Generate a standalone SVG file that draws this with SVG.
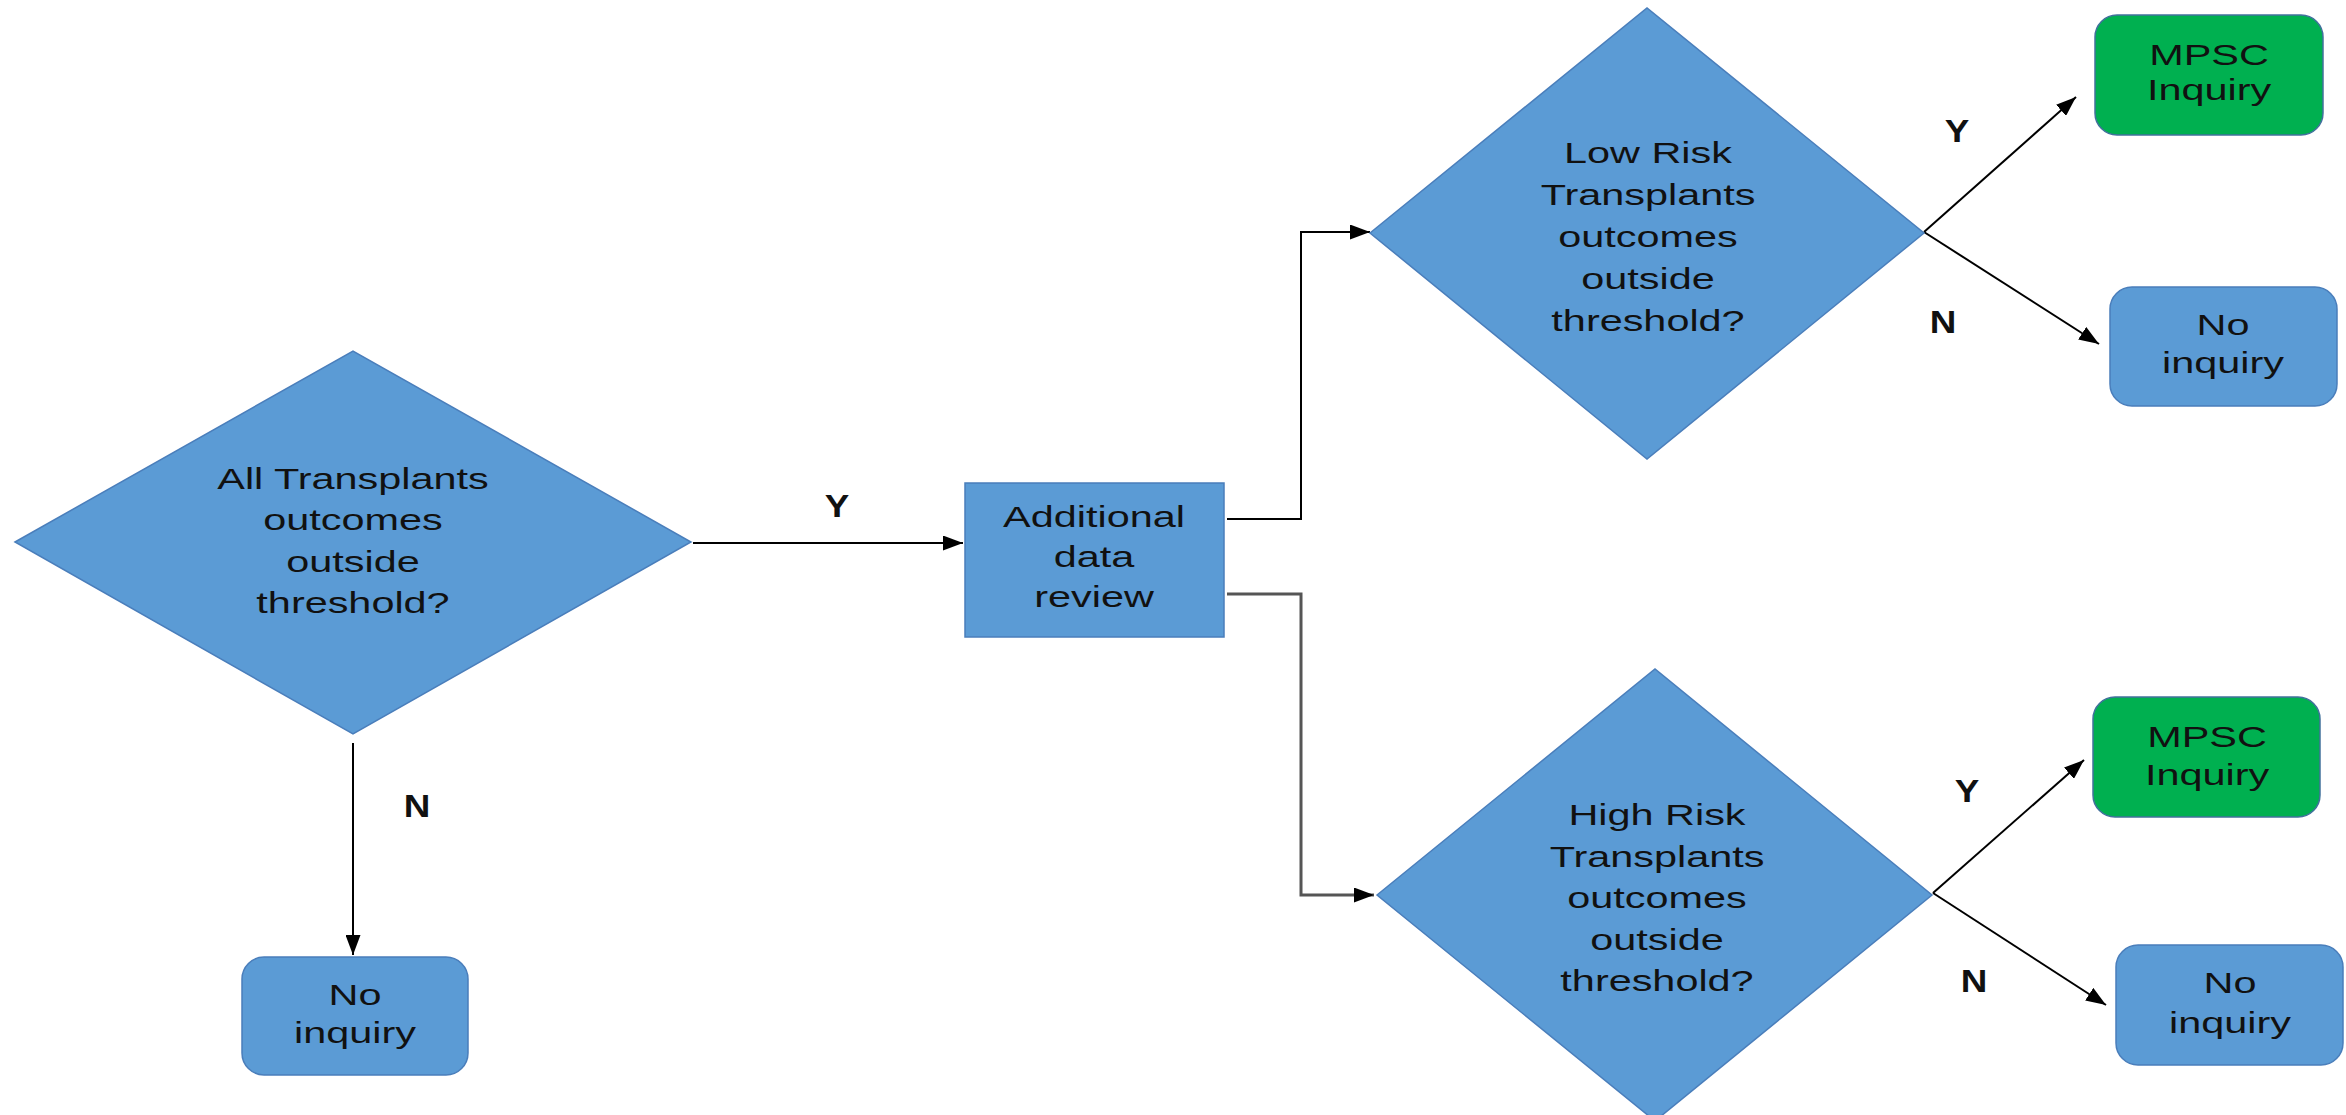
<svg xmlns="http://www.w3.org/2000/svg" width="2346" height="1115" viewBox="0 0 2346 1115">
<style>
.bg{fill:#ffffff}
.shape{fill:#5B9BD5;stroke:#4A7EBB;stroke-width:1.5}
.green{fill:#00B050;stroke:#41719C;stroke-width:1.5}
.t{font-family:"Liberation Sans",Arial,sans-serif;font-size:30px;fill:#111111;text-anchor:middle}
.lbl{font-family:"Liberation Sans",Arial,sans-serif;font-size:32px;font-weight:bold;fill:#111111;text-anchor:middle}
.c{fill:none;stroke:#000000;stroke-width:2}
.cg{fill:none;stroke:#555555;stroke-width:3}
</style>
<defs>
<marker id="arr" markerUnits="userSpaceOnUse" markerWidth="20" markerHeight="15" viewBox="0 0 20 15" refX="20" refY="7.5" orient="auto">
<path d="M0,0 L20,7.5 L0,15 z" fill="#000000"/>
</marker>
</defs>
<rect class="bg" x="0" y="0" width="2346" height="1115"/>
<g id="connectors">
<path class="c" d="M693,543 L963,543" marker-end="url(#arr)"/>
<path class="c" d="M353,743 L353,955" marker-end="url(#arr)"/>
<path class="c" d="M1227,519 L1301,519 L1301,232 L1370,232" marker-end="url(#arr)"/>
<path class="cg" d="M1227,594 L1301,594 L1301,895 L1374,895" marker-end="url(#arr)"/>
<path class="c" d="M1924,232 L2076,97" marker-end="url(#arr)"/>
<path class="c" d="M1924,232 L2099,344" marker-end="url(#arr)"/>
<path class="c" d="M1933,893 L2084,760" marker-end="url(#arr)"/>
<path class="c" d="M1933,893 L2106,1005" marker-end="url(#arr)"/>
<text class="lbl" transform="translate(837 0) scale(1.15 1)" x="0" y="517">Y</text>
<text class="lbl" transform="translate(417 0) scale(1.15 1)" x="0" y="817">N</text>
<text class="lbl" transform="translate(1957 0) scale(1.15 1)" x="0" y="142">Y</text>
<text class="lbl" transform="translate(1943 0) scale(1.15 1)" x="0" y="333">N</text>
<text class="lbl" transform="translate(1967 0) scale(1.15 1)" x="0" y="802">Y</text>
<text class="lbl" transform="translate(1974 0) scale(1.15 1)" x="0" y="992">N</text>
</g>
<g id="all-transplants">
<polygon class="shape" points="15,542 353,351 691,542 353,734"/>
<text class="t" transform="translate(353 0) scale(1.38 1)"><tspan x="0" y="489">All Transplants</tspan><tspan x="0" y="530">outcomes</tspan><tspan x="0" y="572">outside</tspan><tspan x="0" y="613">threshold?</tspan></text>
</g>
<g id="no-inquiry-1">
<rect class="shape" x="242" y="957" width="226" height="118" rx="22"/>
<text class="t" transform="translate(355 0) scale(1.38 1)"><tspan x="0" y="1005">No</tspan><tspan x="0" y="1043">inquiry</tspan></text>
</g>
<g id="additional-data-review">
<rect class="shape" x="965" y="483" width="259" height="154"/>
<text class="t" transform="translate(1094 0) scale(1.38 1)"><tspan x="0" y="527">Additional</tspan><tspan x="0" y="567">data</tspan><tspan x="0" y="607">review</tspan></text>
</g>
<g id="low-risk">
<polygon class="shape" points="1370,233 1647,8 1924,233 1647,459"/>
<text class="t" transform="translate(1648 0) scale(1.38 1)"><tspan x="0" y="163">Low Risk</tspan><tspan x="0" y="205">Transplants</tspan><tspan x="0" y="247">outcomes</tspan><tspan x="0" y="289">outside</tspan><tspan x="0" y="331">threshold?</tspan></text>
</g>
<g id="high-risk">
<polygon class="shape" points="1377,895 1655,669 1932,895 1655,1121"/>
<text class="t" transform="translate(1657 0) scale(1.38 1)"><tspan x="0" y="825">High Risk</tspan><tspan x="0" y="867">Transplants</tspan><tspan x="0" y="908">outcomes</tspan><tspan x="0" y="950">outside</tspan><tspan x="0" y="991">threshold?</tspan></text>
</g>
<g id="mpsc-inquiry-1">
<rect class="green" x="2095" y="15" width="228" height="120" rx="22"/>
<text class="t" transform="translate(2209 0) scale(1.38 1)"><tspan x="0" y="65">MPSC</tspan><tspan x="0" y="100">Inquiry</tspan></text>
</g>
<g id="no-inquiry-2">
<rect class="shape" x="2110" y="287" width="227" height="119" rx="22"/>
<text class="t" transform="translate(2223 0) scale(1.38 1)"><tspan x="0" y="335">No</tspan><tspan x="0" y="373">inquiry</tspan></text>
</g>
<g id="mpsc-inquiry-2">
<rect class="green" x="2093" y="697" width="227" height="120" rx="22"/>
<text class="t" transform="translate(2207 0) scale(1.38 1)"><tspan x="0" y="747">MPSC</tspan><tspan x="0" y="785">Inquiry</tspan></text>
</g>
<g id="no-inquiry-3">
<rect class="shape" x="2116" y="945" width="227" height="120" rx="22"/>
<text class="t" transform="translate(2230 0) scale(1.38 1)"><tspan x="0" y="993">No</tspan><tspan x="0" y="1033">inquiry</tspan></text>
</g>
</svg>
